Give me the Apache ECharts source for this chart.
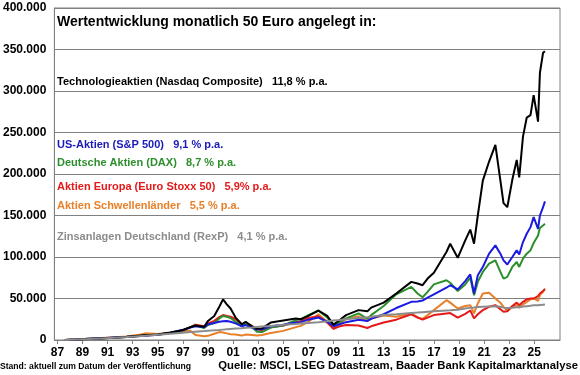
<!DOCTYPE html>
<html>
<head>
<meta charset="utf-8">
<script src="https://cdn.jsdelivr.net/npm/echarts@6/dist/echarts.min.js"></script>
<style>
  html, body { margin: 0; padding: 0; background: #fff; }
  #chart { width: 580px; height: 375px; }
</style>
</head>
<body>
<div id="chart"></div>
<script>
// Zeitpunkte (Dezimaljahre), Werte in Tausend Euro
const dates = [1987.6, 1988.5, 1989.5, 1990.5, 1991.5, 1992.5, 1993.5, 1994.0, 1995.0, 1996.0,
  1997.0, 1997.6, 1998.0, 1998.7, 1999.0, 1999.5, 1999.9, 2000.2, 2000.5, 2000.8,
  2001.2, 2001.7, 2002.0, 2002.5, 2002.9, 2003.3, 2004.0, 2005.0, 2006.0, 2006.4,
  2007.0, 2007.8, 2008.5, 2009.0, 2009.5, 2010.0, 2011.0, 2011.7, 2012.0, 2013.0,
  2014.0, 2015.2, 2015.7, 2016.1, 2016.5, 2017.0, 2018.0, 2018.3, 2018.9, 2019.5,
  2019.9, 2020.2, 2020.5, 2020.9, 2021.4, 2021.9, 2022.3, 2022.55, 2022.85, 2023.25,
  2023.6, 2023.8, 2024.1, 2024.4, 2024.7, 2024.95, 2025.3, 2025.45, 2025.7, 2025.85]

const nasdaq = [0, 0.6, 1.3, 1.8, 2.8, 3.8, 5.2, 5.8, 6.5, 9.0,
  12.0, 15.5, 17.5, 16.0, 23.0, 29.0, 40.0, 49.0, 43.0, 38.0,
  27.0, 19.0, 22.0, 16.5, 13.5, 14.0, 21.0, 23.5, 26.0, 25.0,
  29.0, 35.5, 29.0, 18.5, 24.0, 30.0, 36.0, 34.5, 39.0, 45.0,
  56.0, 70.0, 68.0, 66.0, 74.0, 81.0, 106.0, 116.0, 99.0, 120.0,
  133.0, 116.0, 150.0, 192.0, 215.0, 235.0, 192.0, 165.0, 160.0, 193.0,
  217.0, 196.0, 245.0, 268.0, 271.0, 295.0, 263.0, 322.0, 346.0, 348.0]

const sp500 = [0, 0.6, 1.4, 2.0, 2.9, 3.7, 4.7, 5.2, 6.2, 8.8,
  12.0, 15.0, 16.5, 15.5, 19.0, 20.5, 22.0, 22.5, 23.0, 22.0,
  20.0, 16.5, 18.0, 15.0, 12.5, 13.0, 16.5, 18.5, 21.0, 21.5,
  24.5, 27.0, 22.0, 16.5, 19.0, 21.5, 24.5, 23.0, 25.5, 31.0,
  38.5, 46.0, 46.5, 47.5, 51.0, 55.0, 63.0, 66.0, 61.0, 71.0,
  79.0, 56.0, 78.0, 88.0, 104.0, 114.0, 104.0, 96.0, 91.0, 100.0,
  108.0, 103.0, 118.0, 128.0, 136.0, 148.0, 134.0, 150.0, 160.0, 167.0]

const dax = [0, 0.6, 1.5, 2.2, 2.8, 3.5, 4.8, 5.6, 6.3, 8.5,
  11.5, 15.5, 17.5, 14.5, 18.0, 20.5, 26.0, 29.0, 28.0, 26.5,
  22.0, 17.0, 20.0, 15.5, 10.0, 9.5, 15.0, 17.5, 24.0, 25.0,
  30.0, 35.5, 27.0, 17.5, 21.5, 26.0, 32.0, 25.5, 30.0, 41.0,
  55.0, 64.0, 56.0, 51.5, 58.0, 67.0, 72.0, 69.0, 59.0, 67.0,
  75.0, 54.0, 70.0, 82.0, 92.0, 96.0, 82.0, 74.0, 76.0, 88.0,
  94.0, 88.0, 98.0, 104.0, 108.0, 117.0, 126.0, 135.0, 138.0, 140.0]

const stoxx = [0, 0.6, 1.4, 2.0, 2.8, 3.6, 4.9, 5.7, 6.3, 8.5,
  11.5, 15.5, 18.5, 16.5, 20.0, 23.0, 27.5, 30.0, 29.0, 28.0,
  25.0, 18.5, 21.0, 17.0, 13.0, 12.0, 15.5, 17.5, 21.5, 22.5,
  26.5, 28.5, 21.0, 13.5, 16.5, 18.0, 17.5, 14.5, 16.5, 21.0,
  24.5, 31.0, 27.0, 24.5, 27.0, 30.0, 32.0, 32.5, 27.0, 31.5,
  35.5, 26.0, 31.0, 36.0, 40.0, 42.0, 37.0, 34.0, 34.5, 41.0,
  45.0, 42.0, 46.0, 49.0, 50.0, 50.0, 53.0, 56.0, 59.0, 61.0]

const emerging = [0, 0.5, 1.3, 2.3, 3.2, 4.3, 6.2, 8.0, 7.2, 8.8,
  10.5, 11.0, 6.0, 4.5, 5.0, 7.5, 9.5, 9.0, 8.0, 7.0,
  6.5, 5.5, 6.5, 6.0, 5.5, 6.0, 8.5, 11.0, 15.5, 17.0,
  22.0, 31.0, 22.0, 13.5, 20.0, 25.0, 28.5, 22.5, 26.0, 29.5,
  28.0, 32.0, 27.5, 25.5, 30.0, 36.0, 48.0, 45.0, 38.0, 41.0,
  42.0, 32.0, 44.0, 56.0, 57.0, 50.0, 45.0, 40.0, 35.0, 40.0,
  42.0, 39.0, 43.0, 46.0, 49.0, 50.0, 47.0, 54.0, 58.0, 62.0]

const rexp = [0, 0.55, 1.2, 1.9, 2.7, 3.5, 4.6, 5.0, 6.3, 7.6,
  8.8, 9.5, 10.0, 10.8, 11.2, 11.6, 12.0, 12.5, 12.9, 13.3,
  13.8, 14.3, 14.7, 15.2, 15.7, 16.2, 17.0, 18.3, 19.3, 19.8,
  20.5, 21.5, 22.5, 23.5, 24.2, 25.0, 26.5, 27.5, 28.0, 30.0,
  31.0, 32.5, 33.0, 33.5, 34.0, 34.5, 35.5, 35.8, 36.5, 38.0,
  39.0, 39.3, 39.8, 40.2, 40.5, 40.6, 40.0, 39.0, 38.5, 39.0,
  39.5, 39.5, 40.3, 40.8, 41.3, 41.8, 42.0, 42.3, 42.6, 42.8]

const yearTicks = [1987, 1989, 1991, 1993, 1995, 1997, 1999, 2001, 2003, 2005,
  2007, 2009, 2011, 2013, 2015, 2017, 2019, 2021, 2023, 2025]

const seriesDefs = [
  { name: 'Aktien Schwellenländer', data: emerging, color: '#e8802a' },
  { name: 'Aktien Europa (Euro Stoxx 50)', data: stoxx, color: '#e41a1a' },
  { name: 'Deutsche Aktien (DAX)', data: dax, color: '#2c8f2c' },
  { name: 'US-Aktien (S&P 500)', data: sp500, color: '#1a1ae0' },
  { name: 'Technologieaktien (Nasdaq Composite)', data: nasdaq, color: '#000000' },
  { name: 'Zinsanlagen Deutschland (RexP)', data: rexp, color: '#8c8c8c' }
]

const labels = [
  { text: 'Technologieaktien (Nasdaq Composite)   11,8 % p.a.', y: 83, color: '#000000' },
  { text: 'US-Aktien (S&P 500)   9,1 % p.a.', y: 146, color: '#1a1ab8' },
  { text: 'Deutsche Aktien (DAX)   8,7 % p.a.', y: 164, color: '#2c8f2c' },
  { text: 'Aktien Europa (Euro Stoxx 50)   5,9% p.a.', y: 188, color: '#e41a1a' },
  { text: 'Aktien Schwellenländer   5,5 % p.a.', y: 207, color: '#e8802a' },
  { text: 'Zinsanlagen Deutschland (RexP)   4,1 % p.a.', y: 238, color: '#8c8c8c' }
]

const font = 'Arial, "Liberation Sans", sans-serif'
const chart = echarts.init(document.getElementById('chart'))

chart.setOption({
  animation: false,
  grid: {
    left: 50, right: 20, top: 8, bottom: 35,
    show: true, borderColor: '#808080', borderWidth: 1
  },
  xAxis: {
    type: 'value',
    min: 1986.76,
    max: 2027.05,
    axisLine: { lineStyle: { color: '#808080' } },
    axisTick: { customValues: yearTicks, length: 4, lineStyle: { color: '#808080' } },
    splitLine: { show: false },
    axisLabel: {
      customValues: yearTicks,
      formatter: v => String(Math.round(v) % 100).padStart(2, '0'),
      color: '#000', fontSize: 12, fontWeight: 'bold', fontFamily: font, margin: 7
    }
  },
  yAxis: {
    type: 'value',
    min: 0, max: 400, interval: 50,
    axisLine: { show: true, lineStyle: { color: '#808080' } },
    axisTick: { show: false },
    splitLine: { lineStyle: { color: '#808080', width: 1 } },
    axisLabel: {
      formatter: v => v === 0 ? '0' : v + '.000',
      color: '#000', fontSize: 12, fontWeight: 'bold', fontFamily: font, margin: 8
    }
  },
  series: seriesDefs.map(s => ({
    name: s.name,
    type: 'line',
    showSymbol: false,
    data: dates.map((d, i) => [d, s.data[i]]),
    lineStyle: { color: s.color, width: 2 },
    itemStyle: { color: s.color }
  })),
  graphic: [
    {
      type: 'text', left: 57, top: 15,
      style: { text: 'Wertentwicklung monatlich 50 Euro angelegt in:', font: 'bold 14px ' + font, fill: '#000' }
    },
    ...labels.map(l => ({
      type: 'text', left: 57, top: l.y - 7,
      style: { text: l.text, font: 'bold 11px ' + font, fill: l.color }
    })),
    {
      type: 'text', left: 0, top: 362,
      style: { text: 'Stand: aktuell zum Datum der Veröffentlichung', font: 'bold 8.6px ' + font, fill: '#000' }
    },
    {
      type: 'text', right: 2, top: 360,
      style: { text: 'Quelle: MSCI, LSEG Datastream, Baader Bank Kapitalmarktanalyse', font: 'bold 11.3px ' + font, fill: '#000' }
    }
  ]
})
</script>
</body>
</html>
